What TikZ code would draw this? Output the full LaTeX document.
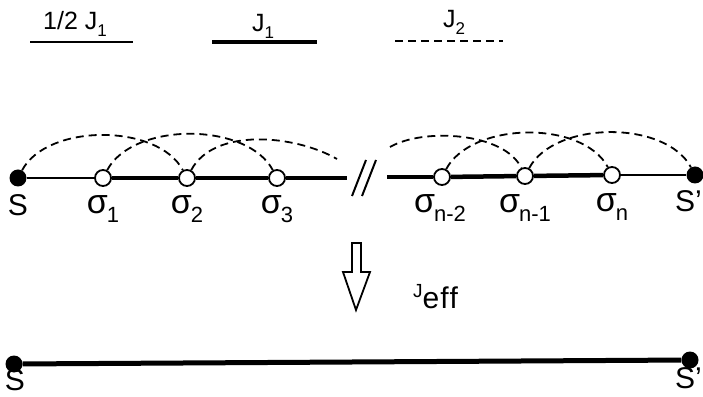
\documentclass[tikz,border=0pt]{standalone}
\usepackage{fontspec}
\setmainfont{Liberation Sans}
\newcommand\sig[1]{{\fontsize{34}{34}\selectfont σ}\kern-1pt\raisebox{-9pt}{\fontsize{22}{22}\selectfont #1}}
\newcommand\jsub[1]{\raisebox{-7pt}{\fontsize{17}{17}\selectfont #1}}
\begin{document}
\begin{tikzpicture}[x=1pt,y=1pt,
  thinline/.style={line width=1.8pt},
  thickline/.style={line width=4.5pt},
  dashline/.style={line width=1.8pt, dash pattern=on 8pt off 5pt},
  spin/.style={circle, draw, fill=white, line width=1.8pt, minimum size=16pt, inner sep=0pt},
  endspin/.style={circle, fill=black, minimum size=17pt, inner sep=0pt},
  lab/.style={font=\fontsize{30}{30}\selectfont, inner sep=0pt},
  leg/.style={font=\fontsize{25}{25}\selectfont, inner sep=0pt, anchor=base west}]
\useasboundingbox (0,0) rectangle (703,396);

% legend
\node[leg] (t1) at (43,366) {1/2 J\jsub{1}};
\coordinate (a1) at (30,354); \coordinate (b1) at (133,354);
\draw[thinline] (a1) -- (b1);
\node[leg] (t2) at (252,364) {J\jsub{1}};
\coordinate (a2) at (212,354); \coordinate (b2) at (317,354);
\draw[thickline] (a2) -- (b2);
\node[leg] (t3) at (443,368) {J\jsub{2}};
\coordinate (a3) at (395,355); \coordinate (b3) at (503,355);
\draw[dashline] (a3) -- (b3);

% chain
\node[endspin] (S) at (18,218) {};
\node[spin] (s1) at (103,218) {};
\node[spin] (s2) at (187,218) {};
\node[spin] (s3) at (277,218) {};
\node[spin] (sn2) at (442,219) {};
\node[spin] (sn1) at (525,220) {};
\node[spin] (sn) at (612,221) {};
\node[endspin] (Sp) at (695,221) {};
\coordinate (L) at (347,218);
\coordinate (R) at (387,219);

\draw[thinline] (S) -- (s1);
\draw[thickline] (s1) -- (s2);
\draw[thickline] (s2) -- (s3);
\draw[thickline] (s3) -- (L);
\draw[thickline] (R) -- (sn2);
\draw[thickline] (sn2) -- (sn1);
\draw[thickline] (sn1) -- (sn);
\draw[thinline] (sn) -- (Sp);

% break mark
\coordinate (m1a) at (352,200); \coordinate (m1b) at (366,236);
\coordinate (m2a) at (362,200); \coordinate (m2b) at (376,236);
\draw[line width=2pt] (m1a) -- (m1b);
\draw[line width=2pt] (m2a) -- (m2b);

% J2 arcs
\coordinate (c1) at (337,237);
\coordinate (c2) at (390,249);
\draw[dashline] (S) to[out=62,in=118,looseness=0.85] (s2);
\draw[dashline] (s1) to[out=62,in=118,looseness=0.85] (s3);
\draw[dashline] (s2) to[out=62,in=150,looseness=0.85] (c1);
\draw[dashline] (c2) to[out=30,in=115,looseness=0.75] (sn1);
\draw[dashline] (sn2) to[out=62,in=118,looseness=0.85] (sn);
\draw[dashline] (sn1) to[out=62,in=118,looseness=0.85] (Sp);

% labels
\node[lab, anchor=base] (lS) at (18,180) {S};
\node[lab, anchor=base] (l1) at (103,182) {\sig{1}};
\node[lab, anchor=base] (l2) at (187,182) {\sig{2}};
\node[lab, anchor=base] (l3) at (277,182) {\sig{3}};
\node[lab, anchor=base] (ln2) at (440,183) {\sig{n-2}};
\node[lab, anchor=base] (ln1) at (525,183) {\sig{n-1}};
\node[lab, anchor=base] (ln) at (612,184) {\sig{n}};
\node[lab, anchor=base east] (lSp) at (702,184) {S'};

% arrow
\draw[line width=1.8pt, line join=miter] (352,153) -- (361,153) -- (361,124) -- (370,124) -- (356,86) -- (343,124) -- (352,124) -- cycle;
\node[inner sep=0pt, anchor=base west] (jeff) at (413,98)
  {{\fontsize{19}{19}\selectfont J}\raisebox{-11pt}{\fontsize{30}{30}\selectfont e\kern1pt f\kern1pt f}};

% effective bond
\node[endspin] (B1) at (14,32) {};
\node[endspin] (B2) at (690,36) {};
\draw[line width=5pt] (B1) -- (B2);
\node[lab, anchor=base] (bS) at (15,6) {S};
\node[lab, anchor=base east] (bSp) at (702,8) {S'};
\end{tikzpicture}
\end{document}
